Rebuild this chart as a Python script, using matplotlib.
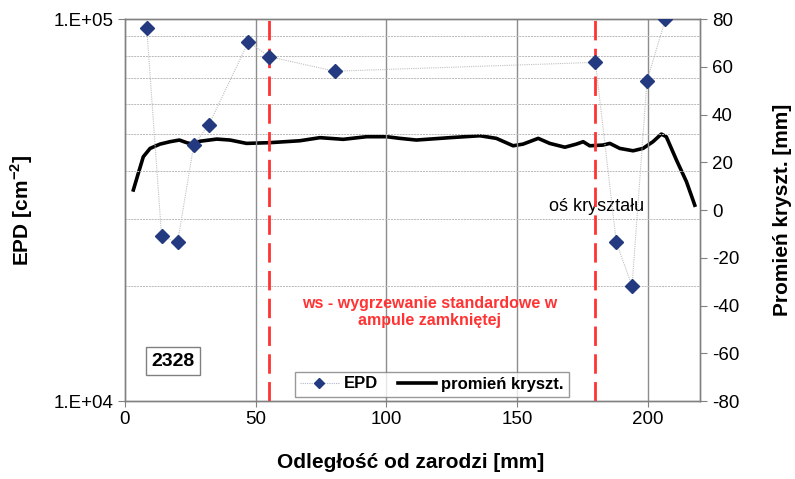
import matplotlib
matplotlib.use("Agg")
import matplotlib.pyplot as plt
from matplotlib.lines import Line2D
from matplotlib.ticker import LogLocator, NullFormatter

plt.rcParams['font.family'] = ['Liberation Sans', 'DejaVu Sans']
plt.rcParams['axes.unicode_minus'] = False
plt.rcParams['mathtext.fontset'] = 'custom'
plt.rcParams['mathtext.rm'] = 'Liberation Sans'
plt.rcParams['mathtext.bf'] = 'Liberation Sans:bold'

# EPD data (left, log axis)
epd_x = [8.3, 14.0, 20.1, 26.3, 32.1, 47.2, 55.2, 80.2, 180.0, 188.0, 194.0, 199.7, 206.8]
epd_y = [94900, 27000, 26000, 46800, 52900, 87100, 79700, 73000, 77000, 26000, 20000, 68800, 100000]

# Crystal radius (right axis)
rad_x = [3.2, 5.1, 7.0, 9.6, 13.4, 17.2, 20.8, 23.6, 26.1, 28.7, 35.1, 40.2, 46.5, 55.4,
         66.9, 74.6, 83.5, 92.4, 100.1, 105.2, 111.5, 124.3, 135.8, 142.1, 148.5, 152.3,
         158.1, 162.5, 168.3, 172.7, 175.3, 177.8, 182.9, 185.5, 189.3, 194.4, 198.2,
         202.0, 205.2, 207.1, 211.0, 214.8, 217.3, 218.0]
rad_y = [8.4, 15.4, 22.3, 25.8, 27.6, 28.6, 29.3, 28.2, 27.5, 28.8, 29.7, 29.3, 27.9, 28.2,
         29.0, 30.3, 29.6, 30.7, 30.7, 30.0, 29.3, 30.3, 31.1, 30.0, 26.9, 27.6,
         30.0, 27.9, 26.3, 27.6, 28.6, 26.9, 27.2, 27.9, 25.8, 24.8, 25.8,
         28.6, 31.8, 30.7, 20.9, 11.9, 4.2, 2.0]

vlines_x = [55, 180]
x_ticks = [0, 50, 100, 150, 200]
right_ticks = [-80, -60, -40, -20, 0, 20, 40, 60, 80]

fig = plt.figure(figsize=(7.95, 4.79), dpi=100)
ax = fig.add_axes([125/795, 1 - 401/479, 575/795, 382/479])
ax2 = ax.twinx()

ax.set_xlim(0, 220)
ax.set_yscale('log')
ax.set_ylim(1e4, 1e5)
ax2.set_ylim(-80, 80)

# grids
ax.yaxis.set_minor_locator(LogLocator(base=10, subs=range(2, 10)))
ax.yaxis.set_minor_formatter(NullFormatter())
ax.grid(True, which='minor', axis='y', color='#b8b8b8', linestyle=(0, (2, 1)), linewidth=0.7)
ax.tick_params(axis='y', which='minor', length=0)
ax.set_xticks(x_ticks)
for xv in x_ticks[1:]:
    ax.axvline(xv, color='#8c8c8c', linewidth=1.0, zorder=0.5)

ax.set_yticks([1e4, 1e5])
ax.set_yticklabels(['1.E+04', '1.E+05'])
ax.tick_params(axis='y', which='major', direction='out', length=5, color='#808080', labelsize=13.5)
ax.tick_params(axis='x', direction='out', length=4, color='#808080', labelsize=13.5)
ax2.set_yticks(right_ticks)
ax2.tick_params(axis='y', direction='out', length=5, color='#808080', labelsize=13.5)

for a in (ax, ax2):
    for s in a.spines.values():
        s.set_color('#808080')
        s.set_linewidth(1.0)

# red dashed lines
for xv in vlines_x:
    ax.axvline(xv, color='#ff3333', linewidth=2.0, linestyle=(0, (7, 3)), zorder=2)

# EPD series
ax.plot(epd_x, epd_y, color='#c0c0c0', linestyle=(0, (1, 1)), linewidth=0.8,
        marker='D', markersize=7.5, markerfacecolor='#233a80', markeredgecolor='#233a80', zorder=4)

# radius series
ax2.plot(rad_x, rad_y, color='black', linewidth=2.6, zorder=3)
ax.set_zorder(ax2.get_zorder() + 1)
ax.patch.set_visible(False)

# annotations
ax2.text(180.5, 1.5, 'oś kryształu', fontsize=13, ha='center', va='center', color='black')
fig.text(430/795, 1 - 312/479, 'ws - wygrzewanie standardowe w\nampule zamkniętej',
         color='#ff3333', fontsize=11.5, fontweight='bold', ha='center', va='center',
         linespacing=1.15)
fig.text(173/795, 1 - 361/479, '2328', fontsize=14, fontweight='bold', ha='center', va='center',
         bbox=dict(boxstyle='square,pad=0.3', facecolor='white', edgecolor='#808080', linewidth=1))

# legend
h1 = Line2D([], [], color='#b0b8d0', linestyle=(0, (1, 1)), linewidth=0.8, marker='D',
            markersize=5, markerfacecolor='#233a80', markeredgecolor='#233a80')
h2 = Line2D([], [], color='black', linewidth=2.6)
leg = fig.legend([h1, h2], ['EPD', 'promień kryszt.'], loc='center',
                 bbox_to_anchor=(432/795, 1 - 384/479), ncol=2, frameon=True, fancybox=False,
                 edgecolor='#808080', prop={'weight': 'bold', 'size': 12},
                 handlelength=2.3, columnspacing=1.2, handletextpad=0.3, borderpad=0.3,
                 borderaxespad=0.0)
leg.get_frame().set_linewidth(1.0)

# axis labels
fig.text(22/795, 1 - 210/479, r'EPD [cm$^{\mathbf{-2}}$]', rotation=90, fontsize=15, fontweight='bold',
         ha='center', va='center')
fig.text(411/795, 1 - 463/479, 'Odległość od zarodzi [mm]', fontsize=15, fontweight='bold',
         ha='center', va='center')
fig.text(783/795, 1 - 210/479, 'Promień kryszt. [mm]', rotation=90, fontsize=15, fontweight='bold',
         ha='center', va='center')

fig.savefig('out.png', dpi=100)
